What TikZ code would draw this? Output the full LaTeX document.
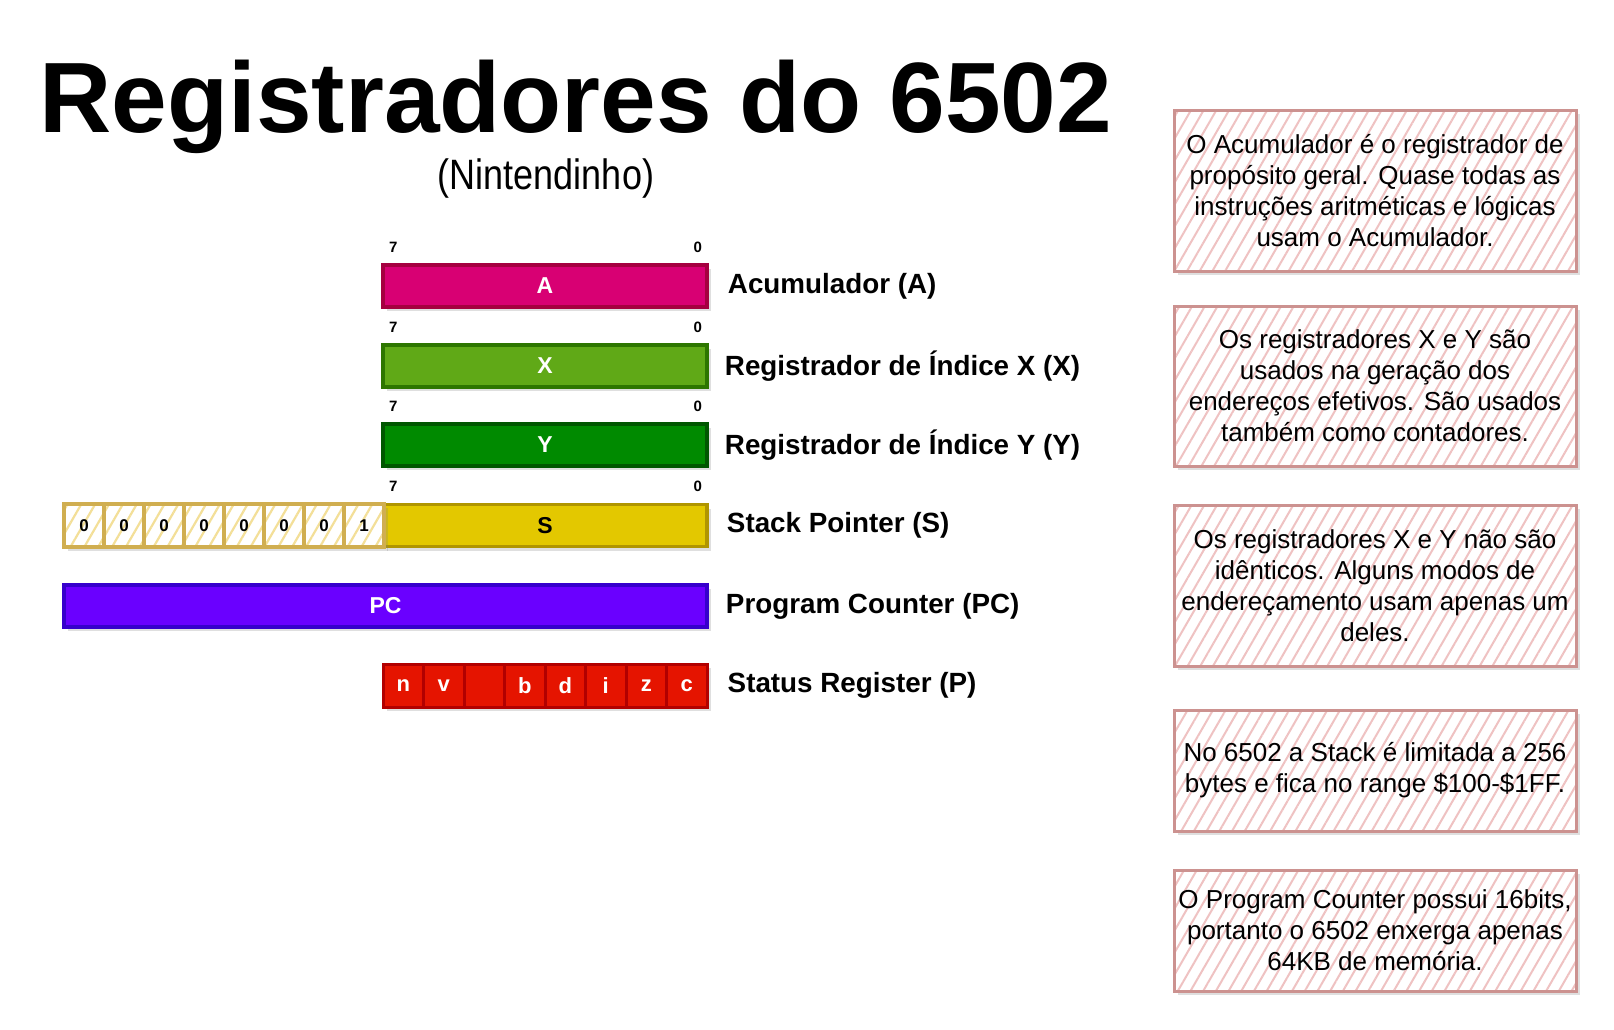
\documentclass[tikz,border=0pt]{standalone}
\usepackage{fontspec}
\setmainfont{Liberation Sans}
\usetikzlibrary{shadows,patterns.meta}

\definecolor{accFill}{HTML}{D80073}
\definecolor{accLine}{HTML}{A50040}
\definecolor{idxXFill}{HTML}{60A917}
\definecolor{idxXLine}{HTML}{2D7600}
\definecolor{idxYFill}{HTML}{008A00}
\definecolor{idxYLine}{HTML}{005700}
\definecolor{stkFill}{HTML}{E3C800}
\definecolor{stkLine}{HTML}{B09500}
\definecolor{pcFill}{HTML}{6A00FF}
\definecolor{pcLine}{HTML}{3700CC}
\definecolor{stFill}{HTML}{E51400}
\definecolor{stLine}{HTML}{B20000}
\definecolor{bitLine}{HTML}{D0AE50}
\definecolor{bitHatch}{HTML}{F3DF98}
\definecolor{noteLine}{HTML}{CC9290}
\definecolor{noteHatch}{HTML}{EFC2C2}

\begin{document}
\begin{tikzpicture}[x=1pt,y=-1pt,
    shade/.style={drop shadow={shadow xshift=4pt,shadow yshift=-4pt,opacity=0.25}},
    reg/.style={draw,line width=3.5pt,minimum height=42pt,inner sep=0pt,text=white,
        font=\fontsize{23}{23}\selectfont\bfseries,shade},
    bitno/.style={inner sep=0pt,font=\fontsize{15}{15}\selectfont\bfseries},
    regname/.style={anchor=west,inner sep=0pt,font=\fontsize{27.8}{28}\selectfont\bfseries},
    stackbit/.style={draw=bitLine,line width=3.8pt,minimum width=40pt,minimum height=43pt,
        inner sep=0pt,shade,preaction={fill=white},
        pattern={Lines[angle=60,distance=12pt,line width=2.2pt]},pattern color=bitHatch,
        font=\fontsize{17}{17}\selectfont\bfseries},
    flag/.style={draw=stLine,fill=stFill,line width=3pt,minimum width=40.5pt,minimum height=43pt,
        inner sep=0pt,text=white,shade,font=\fontsize{22}{22}\selectfont\bfseries},
    note/.style={draw=noteLine,line width=3pt,minimum width=402pt,align=center,inner sep=0pt,
        shade,preaction={fill=white},
        pattern={Lines[angle=60,distance=11pt,line width=2pt]},pattern color=noteHatch,
        font=\fontsize{26}{31}\selectfont}]

    \fill[white,use as bounding box] (0,0) rectangle (1614,1029);

    % title
    \node[anchor=base,inner sep=0pt,font=\fontsize{100}{100}\selectfont\bfseries] (title) at (576,132) {Registradores do 6502};
    \node[anchor=base,inner sep=0pt,font=\fontsize{36}{36}\selectfont] (subtitle) at (546,189) {\scalebox{1}[1.18]{(Nintendinho)}};

    % registers
    \node[reg,fill=accFill,draw=accLine,minimum width=324pt] (regA) at (545,286) {A};
    \node[reg,fill=idxXFill,draw=idxXLine,minimum width=324pt] (regX) at (545,366) {X};
    \node[reg,fill=idxYFill,draw=idxYLine,minimum width=324pt] (regY) at (545,445) {Y};
    \node[reg,fill=stkFill,draw=stkLine,minimum width=324pt,text=black] (regS) at (545,525.5) {S};
    \node[reg,fill=pcFill,draw=pcLine,minimum width=643pt] (regPC) at (385.5,606) {PC};

    \foreach \r in {regA,regX,regY,regS}{
        \node[bitno] (\r-msb) at ([xshift=12pt,yshift=16pt]\r.north west) {7};
        \node[bitno] (\r-lsb) at ([xshift=-11pt,yshift=16pt]\r.north east) {0};
    }

    % stack page bits
    \foreach \b [count=\i] in {0,0,0,0,0,0,0,1}{
        \node[stackbit] (sb\i) at (44+40*\i,525.5) {\b};
    }

    % status flags
    \foreach \f [count=\i] in {n,v,{},b,d,i,z,c}{
        \node[flag] (flag\i) at (362.75+40.5*\i,685.5) {\f};
    }

    \node[regname] (nameA) at ([xshift=19pt]regA.east) {Acumulador (A)};
    \node[regname] (nameX) at ([xshift=16pt]regX.east) {Registrador de Índice X (X)};
    \node[regname] (nameY) at ([xshift=16pt]regY.east) {Registrador de Índice Y (Y)};
    \node[regname] (nameS) at ([xshift=18pt]regS.east) {Stack Pointer (S)};
    \node[regname] (namePC) at ([xshift=17pt]regPC.east) {Program Counter (PC)};
    \node[regname] (nameP) at ([xshift=19pt]flag8.east) {Status Register (P)};

    % notes
    \node[note,minimum height=161pt] (noteA) at (1375,190.5) {O Acumulador é o registrador de\\propósito geral. Quase todas as\\instruções aritméticas e lógicas\\usam o Acumulador.};
    \node[note,minimum height=160pt] (noteXY) at (1375,386) {Os registradores X e Y são\\usados na geração dos\\endereços efetivos. São usados\\também como contadores.};
    \node[note,minimum height=161pt] (noteDiff) at (1375,585.5) {Os registradores X e Y não são\\idênticos. Alguns modos de\\endereçamento usam apenas um\\deles.};
    \node[note,minimum height=121pt] (noteS) at (1375,770.5) {No 6502 a Stack é limitada a 256\\bytes e fica no range \$100-\$1FF.};
    \node[note,minimum height=121pt] (notePC) at (1375,930.5) {O Program Counter possui 16bits,\\portanto o 6502 enxerga apenas\\64KB de memória.};
\end{tikzpicture}
\end{document}
